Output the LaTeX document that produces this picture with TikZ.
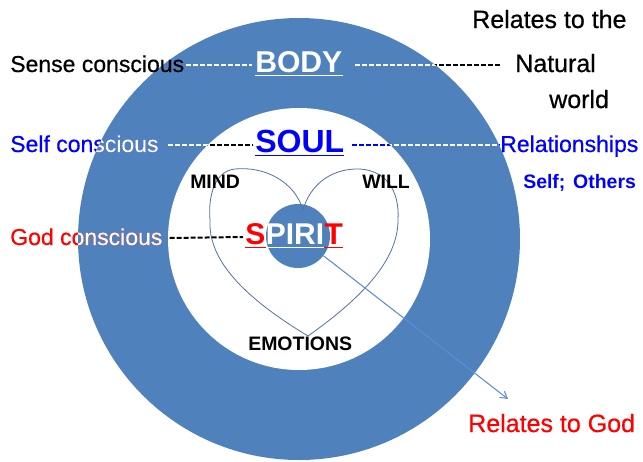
\documentclass[tikz,border=0pt]{standalone}
\usepackage{fontspec}
\setmainfont{Liberation Sans}
\newfontfamily\heavyfont[FakeBold=0.6]{Liberation Sans}
\usetikzlibrary{arrows.meta}
\definecolor{ringblue}{RGB}{79,129,189}
\definecolor{heartline}{RGB}{84,114,156}
\definecolor{arrowblue}{RGB}{91,143,210}
\definecolor{txtblue}{RGB}{0,0,255}
\definecolor{txtred}{RGB}{255,0,0}
\begin{document}
\begin{tikzpicture}[x=0.75pt,y=-0.75pt,
  txt/.style={inner sep=0pt, anchor=base west, font=\heavyfont\fontsize{17.25}{20}\selectfont},
  big/.style={inner sep=0pt, anchor=base west, font=\heavyfont\fontsize{18.75}{22}\selectfont},
  head/.style={inner sep=0pt, anchor=base west, font=\bfseries\fontsize{22.6}{26}\selectfont},
  small/.style={inner sep=0pt, anchor=base west, font=\bfseries\fontsize{14.6}{17}\selectfont},
  dashes/.style={line width=1.5pt, dash pattern=on 3.75pt off 1.5pt},
  uline/.style={line width=1.2pt}]
\useasboundingbox (0,0) rectangle (643,461);

% circles
\node[circle, fill=ringblue, minimum size=331.5pt, inner sep=0pt] (outer) at (299,239) {};
\node[circle, fill=white, minimum size=196.5pt, inner sep=0pt] (inner) at (299,239) {};
\node[circle, fill=ringblue, minimum size=48pt, inner sep=0pt] (spirit) at (298,236) {};

% heart
\draw[heartline, line width=0.6pt]
  (303,210) .. controls (295,182) and (265,166) .. (235,169)
  .. controls (215,171) and (208,195) .. (210,220)
  .. controls (208,258) and (240,295) .. (308,336)
  .. controls (366,295) and (398,258) .. (398,220)
  .. controls (400,190) and (385,168) .. (355,169)
  .. controls (330,170) and (310,185) .. (303,210) -- cycle;

% arrow to "Relates to God"
\coordinate (godtip) at (508,399);
\draw[arrowblue, line width=0.8pt, -{Straight Barb[length=5pt,width=6pt]}] (spirit) -- (godtip);

% right-hand texts
\node[big] (relthe) at (472,28) {Relates to the};
\node[big] (natural) at (515,72) {Natural};
\node[big] (world) at (549,108) {world};
\node[txt, text=txtblue] (rel) at (500,152) {Relationships};
\node[small, text=txtblue] (others) at (523,188) {Self;\hspace{0.4em}Others};
\node[big, text=txtred] (relgod) at (468,432) {Relates to God};

% BODY row
\node[txt] (sense) at (10,72) {Sense conscious};
\node[head, text=white] (body) at (255,72) {BODY};
\draw[white, uline] ([yshift=-2.6pt]body.base west) -- ([yshift=-2.6pt]body.base east);
\draw[dashes, white] ([xshift=1.5pt,yshift=5.25pt]sense.base east) -- ([xshift=-2pt,yshift=5.25pt]body.base west);
\draw[dashes, black] ([xshift=9pt,yshift=5.25pt]body.base east) -- ([xshift=-11.25pt,yshift=5.25pt]natural.base west);

% SOUL row
\node[txt, text=txtblue] (self) at (10,152) {Self conscious};
\node[head, text=txtblue, font=\bfseries\fontsize{24}{27}\selectfont] (soul) at (255,152) {SOUL};
\draw[txtblue, uline] ([yshift=-2.6pt]soul.base west) -- ([yshift=-2.6pt]soul.base east);
\draw[dashes, black] ([xshift=6.75pt,yshift=5.25pt]self.base east) -- ([xshift=-1.5pt,yshift=5.25pt]soul.base west);
\draw[dashes, txtblue] ([xshift=6pt,yshift=5.25pt]soul.base east) -- ([yshift=5.25pt]rel.base west);

% inner labels
\node[small] (mind) at (190,188) {MIND};
\node[small] (will) at (362,188) {WILL};
\node[small] (emo) at (248,350) {EMOTIONS};

% SPIRIT row
\node[txt, text=txtred] (god) at (10,245) {God conscious};
\node[head, text=txtred, font=\bfseries\fontsize{22.5}{26}\selectfont] (spS) at (245,244) {S};
\node[head, text=white, font=\bfseries\fontsize{22.5}{26}\selectfont] (spP) at (spS.base east) {PIRI};
\node[head, text=txtred, font=\bfseries\fontsize{22.5}{26}\selectfont] (spT) at (spP.base east) {T};
\draw[txtred, uline] ([yshift=-2.6pt]spS.base west) -- ([yshift=-2.6pt]spS.base east);
\draw[white, uline] ([yshift=-2.6pt]spP.base west) -- ([yshift=-2.6pt]spP.base east);
\draw[txtred, uline] ([yshift=-2.6pt]spT.base west) -- ([yshift=-2.6pt]spT.base east);
\draw[dashes, black] ([xshift=5.25pt,yshift=5.25pt]god.base east) -- ([xshift=-1.5pt,yshift=5.25pt]spS.base west);

% white overlay where text crosses the blue ring
\begin{scope}[even odd rule]
\clip (outer.center) circle (165.75pt) (outer.center) circle (98.25pt);
\node[txt, text=white] (selfW) at (10,152) {Self conscious};
\node[txt, text=white] (godW) at (10,245) {God conscious};
\draw[dashes, white] ([xshift=9pt,yshift=5.25pt]body.base east) -- ([xshift=-11.25pt,yshift=5.25pt]natural.base west);
\draw[dashes, white] ([xshift=6.75pt,yshift=5.25pt]self.base east) -- ([xshift=-1.5pt,yshift=5.25pt]soul.base west);
\draw[dashes, white] ([xshift=6pt,yshift=5.25pt]soul.base east) -- ([yshift=5.25pt]rel.base west);
\end{scope}
\end{tikzpicture}
\end{document}
